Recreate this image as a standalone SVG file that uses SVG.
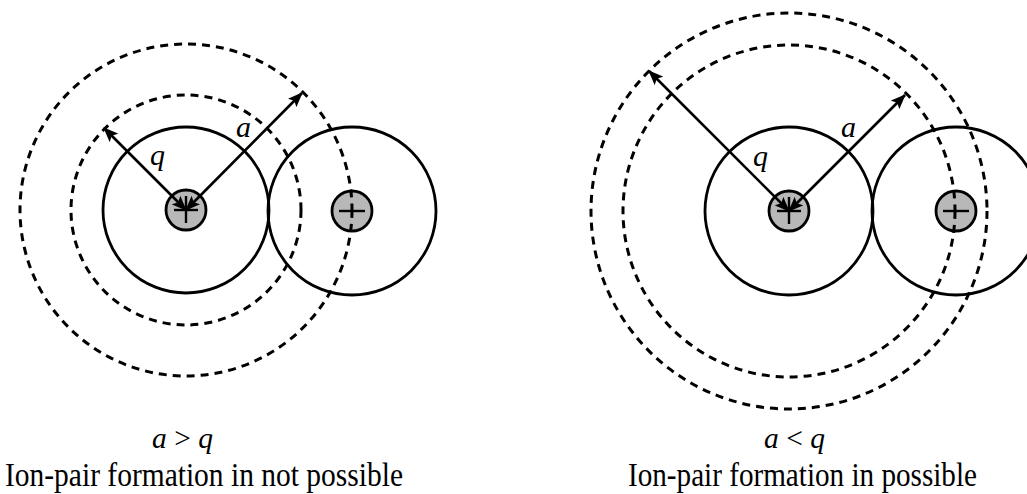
<svg xmlns="http://www.w3.org/2000/svg" width="1027" height="494" viewBox="0 0 1027 494">
<style>
.solid{fill:none;stroke:#000;stroke-width:2.8}
.dash{fill:none;stroke:#000;stroke-width:3;stroke-dasharray:8 6}
.ion{fill:#b8b8b8;stroke:#000;stroke-width:2.8}
.sign{stroke:#000;stroke-width:2.4;fill:none}
.arrow{stroke:#000;stroke-width:2.6;fill:none;marker-start:url(#headIn);marker-end:url(#headOut)}
.lbl{font-family:"Liberation Serif",serif;font-style:italic;font-size:30px;fill:#000}
.cap{font-family:"Liberation Serif",serif;font-size:29.5px;fill:#000}
</style>
<defs>
<marker id="headOut" markerWidth="15" markerHeight="12" refX="14" refY="6" orient="auto" markerUnits="userSpaceOnUse">
<path d="M0,0 L15,6 L0,12 L3,6 Z" fill="#000"/>
</marker>
<marker id="headIn" markerWidth="15" markerHeight="12" refX="1" refY="6" orient="auto" markerUnits="userSpaceOnUse">
<path d="M15,0 L0,6 L15,12 L12,6 Z" fill="#000"/>
</marker>
</defs>

<g id="left-cation-sphere"><circle class="solid" cx="186" cy="210" r="83"/></g>
<g id="left-anion-sphere"><circle class="solid" cx="352" cy="211" r="84"/></g>
<g id="left-cation"><circle class="ion" cx="186" cy="210" r="20"/></g>
<g id="left-anion"><circle class="ion" cx="352" cy="211" r="20"/><line class="sign" x1="339" y1="211" x2="365" y2="211"/></g>
<g id="left-q-circle"><circle class="dash" cx="186" cy="210" r="115"/></g>
<g id="left-a-circle"><circle class="dash" cx="186" cy="210" r="166"/></g>

<g id="right-cation-sphere"><circle class="solid" cx="789" cy="211" r="84"/></g>
<g id="right-anion-sphere"><circle class="solid" cx="956" cy="211" r="84"/></g>
<g id="right-cation"><circle class="ion" cx="789" cy="211" r="20"/></g>
<g id="right-anion"><circle class="ion" cx="956" cy="211" r="20"/><line class="sign" x1="943" y1="211" x2="969" y2="211"/></g>
<g id="right-a-circle"><circle class="dash" cx="789" cy="211" r="166"/></g>
<g id="right-q-circle"><circle class="dash" cx="789" cy="211" r="198"/></g>

<g id="connectors">
<line class="arrow" x1="186" y1="210" x2="104" y2="128"/>
<line class="arrow" x1="186" y1="210" x2="302" y2="93"/>
<line class="arrow" x1="789" y1="211" x2="649" y2="71"/>
<line class="arrow" x1="789" y1="211" x2="905" y2="95"/>
</g>

<g id="plus-signs">
<line class="sign" x1="174" y1="210" x2="198" y2="210"/><line class="sign" x1="186" y1="196" x2="186" y2="223"/>
<line class="sign" x1="777" y1="211" x2="801" y2="211"/><line class="sign" x1="789" y1="197" x2="789" y2="224"/>
</g>

<g id="labels">
<text class="lbl" x="150" y="165">q</text>
<text class="lbl" x="236" y="137">a</text>
<text class="lbl" x="753" y="166">q</text>
<text class="lbl" x="841" y="137">a</text>
</g>

<g id="captions">
<text class="cap" x="152" y="448"><tspan font-style="italic">a</tspan> &gt; <tspan font-style="italic">q</tspan></text>
<text class="cap" transform="translate(5,486) scale(1,1.12)" x="0" y="0" textLength="398" lengthAdjust="spacingAndGlyphs">Ion-pair formation in not possible</text>
<text class="cap" x="764" y="448"><tspan font-style="italic">a</tspan> &lt; <tspan font-style="italic">q</tspan></text>
<text class="cap" transform="translate(628,486) scale(1,1.12)" x="0" y="0" textLength="349" lengthAdjust="spacingAndGlyphs">Ion-pair formation in possible</text>
</g>
</svg>
